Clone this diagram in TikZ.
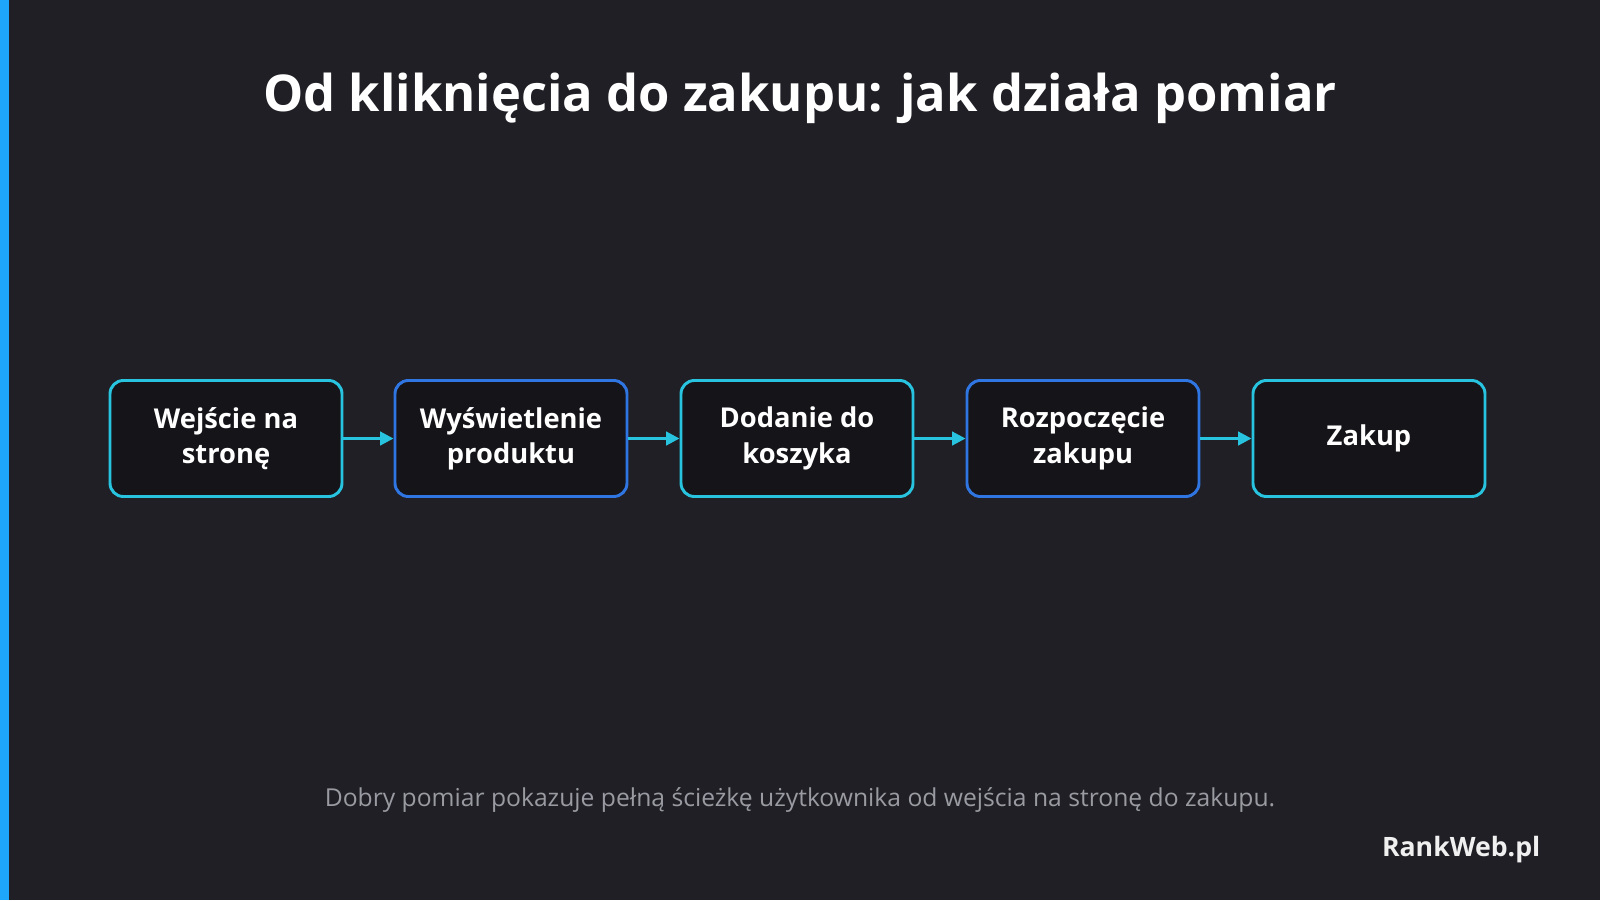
\documentclass[tikz,border=0pt]{standalone}
\usepackage{fontspec}
\setmainfont{Open Sans}
\usetikzlibrary{arrows.meta}

\definecolor{tlo}{HTML}{1F1F25}
\definecolor{wnetrze}{HTML}{141419}
\definecolor{turkus}{HTML}{28C4DF}
\definecolor{niebieski}{HTML}{2F76E2}
\definecolor{pasek}{HTML}{1EA6FA}
\definecolor{szary}{HTML}{9A9AA2}

\begin{document}
\begin{tikzpicture}[
  x=0.75pt,
  y=-0.75pt,
  krok/.style={line width=2.2pt, rounded corners=10pt, fill=wnetrze,
    minimum width=174pt, minimum height=87pt, align=center, text=white,
    font=\fontsize{20.5}{26.5}\selectfont\bfseries},
  strzalka/.style={turkus, line width=2.2pt, -{Triangle[length=10pt,width=10pt]}}
]
  % tło i pasek
  \fill[tlo] (0,0) rectangle (1600,900);
  \useasboundingbox (0,0) rectangle (1600,900);
  \fill[pasek] (0,0) rectangle (9,900);

  \node[text=white, font=\fontsize{38}{46}\selectfont\bfseries] (tytul) at (800,98)
    {Od kliknięcia do zakupu: jak działa pomiar};

  % etapy
  \node[krok, draw=turkus] (wejscie) at (226,438.5) {Wejście na\\stronę};
  \node[krok, draw=niebieski] (produkt) at (511,438.5) {Wyświetlenie\\produktu};
  \node[krok, draw=turkus] (koszyk) at (797,438.5) {Dodanie do\\koszyka};
  \node[krok, draw=niebieski] (start) at (1083,438.5) {Rozpoczęcie\\zakupu};
  \node[krok, draw=turkus] (zakup) at (1369,438.5) {Zakup};

  \draw[strzalka] (wejscie) -- (produkt);
  \draw[strzalka] (produkt) -- (koszyk);
  \draw[strzalka] (koszyk) -- (start);
  \draw[strzalka] (start) -- (zakup);

  \node[text=szary, font=\fontsize{18.5}{22}\selectfont] (opis) at (800,800)
    {Dobry pomiar pokazuje pełną ścieżkę użytkownika od wejścia na stronę do zakupu.};
  \node[anchor=east, text=white!88!gray, font=\fontsize{20}{24}\selectfont\bfseries] (logo) at (1545,850)
    {RankWeb.pl};
\end{tikzpicture}
\end{document}
